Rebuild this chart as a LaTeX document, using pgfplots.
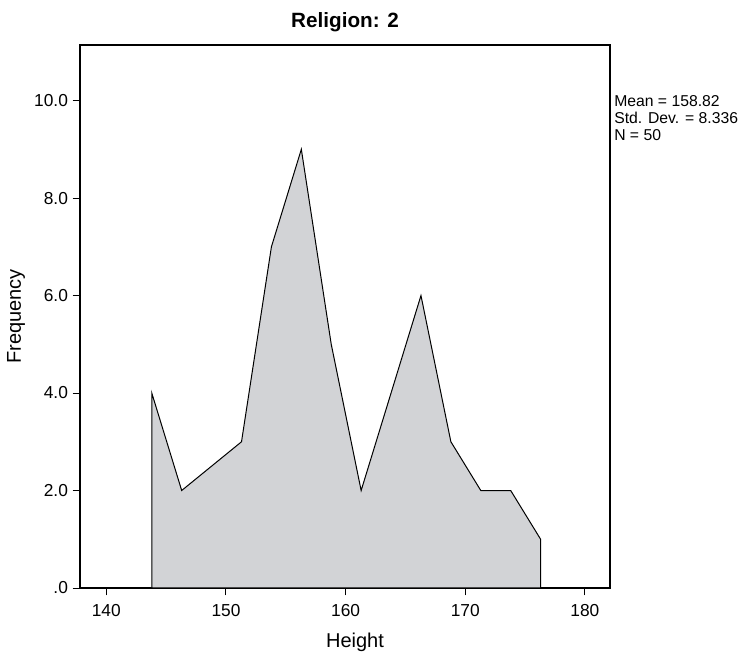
\documentclass[border=0pt]{standalone}
\usepackage{fontspec}
\setmainfont{Liberation Sans}
\usepackage{pgfplots}
\pgfplotsset{compat=1.18}
\definecolor{fillgray}{RGB}{210,211,214}
\begin{document}
\begin{tikzpicture}
\begin{axis}[
  name=ax,
  scale only axis,
  width=397.5pt, height=407.25pt,
  xmin=137.8, xmax=182.1, ymin=0, ymax=11.14,
  xtick={140,150,160,170,180},
  ytick={0,2,4,6,8,10},
  yticklabels={.0,2.0,4.0,6.0,8.0,10.0},
  /pgf/number format/assume math mode=true,
  tick align=outside, tick pos=left,
  major tick length=5.5pt,
  tick style={black, line width=0.7pt},
  axis line style={black, line width=0.85pt},
  ticklabel style={font=\fontsize{13}{15}\selectfont},
  xticklabel style={yshift=-3pt},
  xlabel={Height}, ylabel={Frequency},
  label style={font=\fontsize{15}{18}\selectfont},
  xlabel style={xshift=7.5pt, yshift=-6pt},
  title={\textbf{Religion: 2}},
  title style={font=\fontsize{15.5}{18}\selectfont, yshift=0pt},
]
\addplot[fill=fillgray, draw=black, line width=0.75pt] coordinates {
  (143.8,0) (143.8,4) (146.3,2) (151.3,3) (153.8,7) (156.3,9) (158.8,5)
  (161.3,2) (166.3,6) (168.8,3) (171.3,2) (173.8,2) (176.3,1) (176.3,0)
} -- cycle;
\end{axis}
\node[anchor=north west, inner sep=0pt, align=left, font=\fontsize{11.8}{12.6}\selectfont]
  at ([shift={(3pt,-38pt)}]ax.north east) {Mean = 158.82\\Std. Dev. = 8.336\\N = 50};
\pgfresetboundingbox
\path[use as bounding box] ([shift={(-60pt,-51pt)}]ax.south west) rectangle ([shift={(100.5pt,33.75pt)}]ax.north east);
\end{tikzpicture}
\end{document}
